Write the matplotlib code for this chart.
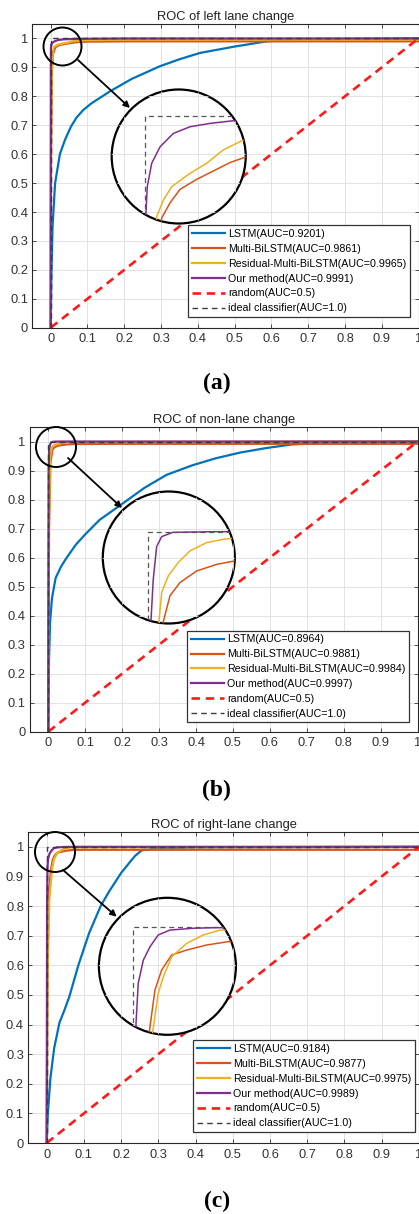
import numpy as np
import matplotlib
matplotlib.use('Agg')
import matplotlib.pyplot as plt
from matplotlib.patches import Circle, Ellipse, FancyArrowPatch
from matplotlib.lines import Line2D
from matplotlib.ticker import FormatStrFormatter

plt.rcParams['font.family'] = ['Liberation Sans', 'DejaVu Sans']

# ---- data ----
titles = ['ROC of left lane change', 'ROC of non-lane change', 'ROC of right-lane change']
tags = ['(a)', '(b)', '(c)']
names = ['LSTM', 'Multi-BiLSTM', 'Residual-Multi-BiLSTM', 'Our method']
auc_a = [0.9201, 0.9861, 0.9965, 0.9991]
auc_b = [0.8964, 0.9881, 0.9984, 0.9997]
auc_c = [0.9184, 0.9877, 0.9975, 0.9989]

random_x = [0, 1]
random_y = [0, 1]
ideal_x = [0, 0, 1]
ideal_y = [0, 1, 1]

# panel (a)
lstm_a_x = [0, 0.002, 0.005, 0.012, 0.025, 0.039, 0.055, 0.07, 0.088, 0.11, 0.161, 0.22, 0.297, 0.35, 0.406,
            0.5, 0.587, 0.65, 0.8, 1.0]
lstm_a_y = [0, 0.18, 0.35, 0.5, 0.6, 0.65, 0.695, 0.726, 0.752, 0.775, 0.817, 0.86, 0.904, 0.928, 0.95,
            0.972, 0.99, 0.995, 0.998, 1.0]
multi_a_x = [0, 0.001, 0.003, 0.006, 0.0125, 0.0187, 0.0261, 0.0386, 0.0535, 0.0634, 0.0746, 0.1, 0.2, 1.0, 1.0]
multi_a_y = [0, 0.6, 0.88, 0.945, 0.9695, 0.974, 0.978, 0.981, 0.984, 0.986, 0.9876, 0.989, 0.99, 0.99, 1.0]
res_a_x = [0, 0.001, 0.003, 0.006, 0.0087, 0.0137, 0.0199, 0.0336, 0.046, 0.0584, 0.0722, 0.1, 0.2, 1.0, 1.0]
res_a_y = [0, 0.7, 0.9, 0.955, 0.9699, 0.9748, 0.9788, 0.9828, 0.9858, 0.9898, 0.9925, 0.994, 0.996, 0.996, 1.0]
ours_a_x = [0, 0.0003, 0.0007, 0.0017, 0.005, 0.0112, 0.0211, 0.0336, 0.0485, 0.0659, 0.1, 0.2, 1.0]
ours_a_y = [0, 0.9, 0.9709, 0.9788, 0.9858, 0.9907, 0.9947, 0.9967, 0.9977, 0.9985, 0.999, 1.0, 1.0]

# panel (b)
lstm_b_x = [0, 0.002, 0.005, 0.01, 0.02, 0.035, 0.05, 0.075, 0.1, 0.139, 0.2, 0.26, 0.32, 0.39, 0.453, 0.52,
            0.588, 0.66, 0.75, 1.0]
lstm_b_y = [0, 0.25, 0.38, 0.46, 0.53, 0.57, 0.6, 0.645, 0.68, 0.73, 0.785, 0.84, 0.885, 0.918, 0.942, 0.962,
            0.977, 0.99, 0.995, 1.0]
multi_b_x = [0, 0.002, 0.006, 0.0118, 0.0169, 0.0245, 0.0371, 0.0523, 0.0667, 0.1, 0.2, 1.0, 1.0]
multi_b_y = [0, 0.7, 0.93, 0.9727, 0.9806, 0.9846, 0.9881, 0.9901, 0.9912, 0.9915, 0.992, 0.992, 1.0]
res_b_x = [0, 0.002, 0.005, 0.0086, 0.0106, 0.0156, 0.0232, 0.0321, 0.0447, 0.0573, 0.0654, 0.1, 1.0]
res_b_y = [0, 0.75, 0.94, 0.973, 0.9816, 0.9866, 0.9907, 0.9942, 0.9967, 0.9977, 0.998, 0.998, 1.0]
ours_b_x = [0, 0.001, 0.0025, 0.0042, 0.0068, 0.0106, 0.0189, 0.05, 1.0]
ours_b_y = [0, 0.9, 0.973, 0.9855, 0.9955, 0.9985, 0.9998, 1.0, 1.0]

# panel (c)
lstm_c_x = [0, 0.003, 0.01, 0.02, 0.034, 0.048, 0.061, 0.085, 0.114, 0.145, 0.167, 0.2, 0.237, 0.255, 0.3, 0.4, 1.0]
lstm_c_y = [0, 0.1, 0.22, 0.32, 0.405, 0.45, 0.495, 0.6, 0.709, 0.8, 0.848, 0.912, 0.969, 0.988, 0.995, 0.998, 1.0]
multi_c_x = [0, 0.002, 0.006, 0.0117, 0.0158, 0.0207, 0.028, 0.039, 0.0536, 0.0693, 0.1, 0.2, 1.0, 1.0]
multi_c_y = [0, 0.6, 0.85, 0.9238, 0.9542, 0.9688, 0.9798, 0.9834, 0.9871, 0.9895, 0.99, 0.99, 0.99, 1.0]
res_c_x = [0, 0.002, 0.007, 0.0142, 0.0182, 0.0219, 0.028, 0.039, 0.0511, 0.0633, 0.1, 1.0]
res_c_y = [0, 0.55, 0.82, 0.9238, 0.9518, 0.9639, 0.9785, 0.9883, 0.9944, 0.998, 0.998, 1.0]
ours_c_x = [0, 0.001, 0.002, 0.0036, 0.0073, 0.0122, 0.0182, 0.0268, 0.0438, 0.0584, 0.1, 1.0]
ours_c_y = [0, 0.8, 0.93, 0.959, 0.976, 0.9858, 0.9944, 0.998, 0.9993, 0.9997, 1.0, 1.0]

colors = ['#0072BD', '#D95319', '#EDB120', '#7E2F8E']

# ---- layout (pixels of the 419x1214 image) ----
W, H = 419, 1214
panels = [
    dict(curves=[(lstm_a_x, lstm_a_y), (multi_a_x, multi_a_y), (res_a_x, res_a_y), (ours_a_x, ours_a_y)],
         auc=auc_a, rect=(32.3, 24, 418.5, 327.7), leg=(410, 317),
         small=(62.5, 46.5, 19), big=(178.7, 156.5, 67), arrow=((78, 60), (130, 108)),
         xlim=(-0.02485, 0.07515), ylim=(0.96782, 1.00782), tag_y=383),
    dict(curves=[(lstm_b_x, lstm_b_y), (multi_b_x, multi_b_y), (res_b_x, res_b_y), (ours_b_x, ours_b_y)],
         auc=auc_b, rect=(29.8, 427, 417.6, 731.7), leg=(409, 722.3),
         small=(56, 447, 20), big=(168.8, 557.5, 66), arrow=((68, 458), (122, 508)),
         xlim=(-0.034, 0.066), ylim=(0.97218, 1.01218), tag_y=790),
    dict(curves=[(lstm_c_x, lstm_c_y), (multi_c_x, multi_c_y), (res_c_x, res_c_y), (ours_c_x, ours_c_y)],
         auc=auc_c, rect=(28.1, 832, 418.9, 1143), leg=(415, 1132),
         small=(55, 852, 20), big=(167.4, 966.3, 68.5), arrow=((63, 870), (116.7, 916.7)),
         xlim=(-0.0251, 0.0749), ylim=(0.92153, 1.02153), tag_y=1201),
]

ticks = np.round(np.arange(0, 1.01, 0.1), 1)
grid_c = '#dedede'


def fig_pt(x, y):
    return (x / W, 1 - y / H)


fig = plt.figure(figsize=(W / 100, H / 100), dpi=100)

for p, title, tag in zip(panels, titles, tags):
    l, t, r, b = p['rect']
    ax = fig.add_axes([l / W, 1 - b / H, (r - l) / W, (b - t) / H])
    for (x, y), c, n, a in zip(p['curves'], colors, names, p['auc']):
        ax.plot(x, y, color=c, lw=1.6, label='%s(AUC=%.4f)' % (n, a))
    ax.plot(random_x, random_y, color='#ff1a1a', ls='--', lw=1.9, dashes=(3.2, 2.2), label='random(AUC=0.5)')
    ax.plot(ideal_x, ideal_y, color='#3a3a3a', ls='--', lw=1.0, dashes=(4, 3), label='ideal classifier(AUC=1.0)')
    ax.set_xlim(-0.05, 1.0)
    ax.set_ylim(0, 1.05)
    ax.set_xticks(ticks)
    ax.set_yticks(ticks)
    ax.xaxis.set_major_formatter(FormatStrFormatter('%g'))
    ax.yaxis.set_major_formatter(FormatStrFormatter('%g'))
    ax.grid(True, color=grid_c, lw=0.6)
    ax.tick_params(direction='in', length=3, width=0.6, top=True, right=True,
                   labelsize=9.3, labelcolor='#333333', color='#333333')
    ax.tick_params(axis='x', pad=4)
    ax.tick_params(axis='y', pad=3)
    for s in ax.spines.values():
        s.set_color('#262626')
        s.set_linewidth(0.8)
    ax.set_title(title, fontsize=9.3, pad=3, color='#222222')

    lx, ly = p['leg']
    leg = ax.legend(loc='lower right', bbox_to_anchor=((lx - l) / (r - l), (b - ly) / (b - t)),
                    borderaxespad=0, fontsize=7.7, handlelength=3.1, handletextpad=0.3,
                    labelspacing=0.45, borderpad=0.35, fancybox=False, framealpha=1)
    leg.get_frame().set_edgecolor('#333333')
    leg.get_frame().set_linewidth(0.9)
    leg.set_zorder(6)

    # magnified view in a circle
    cx, cy, rad = p['big']
    x0, y0 = fig_pt(cx - rad, cy + rad)
    ax_in = fig.add_axes([x0, y0, 2 * rad / W, 2 * rad / H])
    ax_in.axis('off')
    disc = Circle((0.5, 0.5), 0.5, transform=ax_in.transAxes, facecolor='white', edgecolor='none')
    ax_in.add_patch(disc)
    for v in ticks:
        for gx, gy in (([v, v], [0, 1.05]), ([-0.05, 1.0], [v, v])):
            gl = Line2D(gx, gy, transform=ax.transData, color=grid_c, lw=0.6)
            gl.set_clip_path(disc)
            ax_in.add_artist(gl)
    for (x, y), c in zip(p['curves'], colors):
        ln, = ax_in.plot(x, y, color=c, lw=1.1)
        ln.set_clip_path(disc)
    ln, = ax_in.plot(ideal_x, ideal_y, color='#555555', ls='--', lw=0.9, dashes=(4, 3))
    ln.set_clip_path(disc)
    ax_in.set_xlim(*p['xlim'])
    ax_in.set_ylim(*p['ylim'])
    ax_in.add_patch(Circle((0.5, 0.5), 0.5, transform=ax_in.transAxes, fill=False,
                           edgecolor='black', lw=1.6, clip_on=False))

    sx, sy, sr = p['small']
    fig.add_artist(Ellipse(fig_pt(sx, sy), 2 * sr / W, 2 * sr / H, transform=fig.transFigure,
                           fill=False, edgecolor='black', lw=1.4))
    a0, a1 = p['arrow']
    fig.add_artist(FancyArrowPatch(fig_pt(*a0), fig_pt(*a1), transform=fig.transFigure,
                                   arrowstyle='-|>', mutation_scale=9, lw=1.3, color='black',
                                   shrinkA=0, shrinkB=0))

    fig.text(216.7 / W, 1 - p['tag_y'] / H, tag, ha='center', va='center', fontsize=17,
             fontweight='bold', family='Liberation Serif')

fig.savefig('out.png', dpi=100)
